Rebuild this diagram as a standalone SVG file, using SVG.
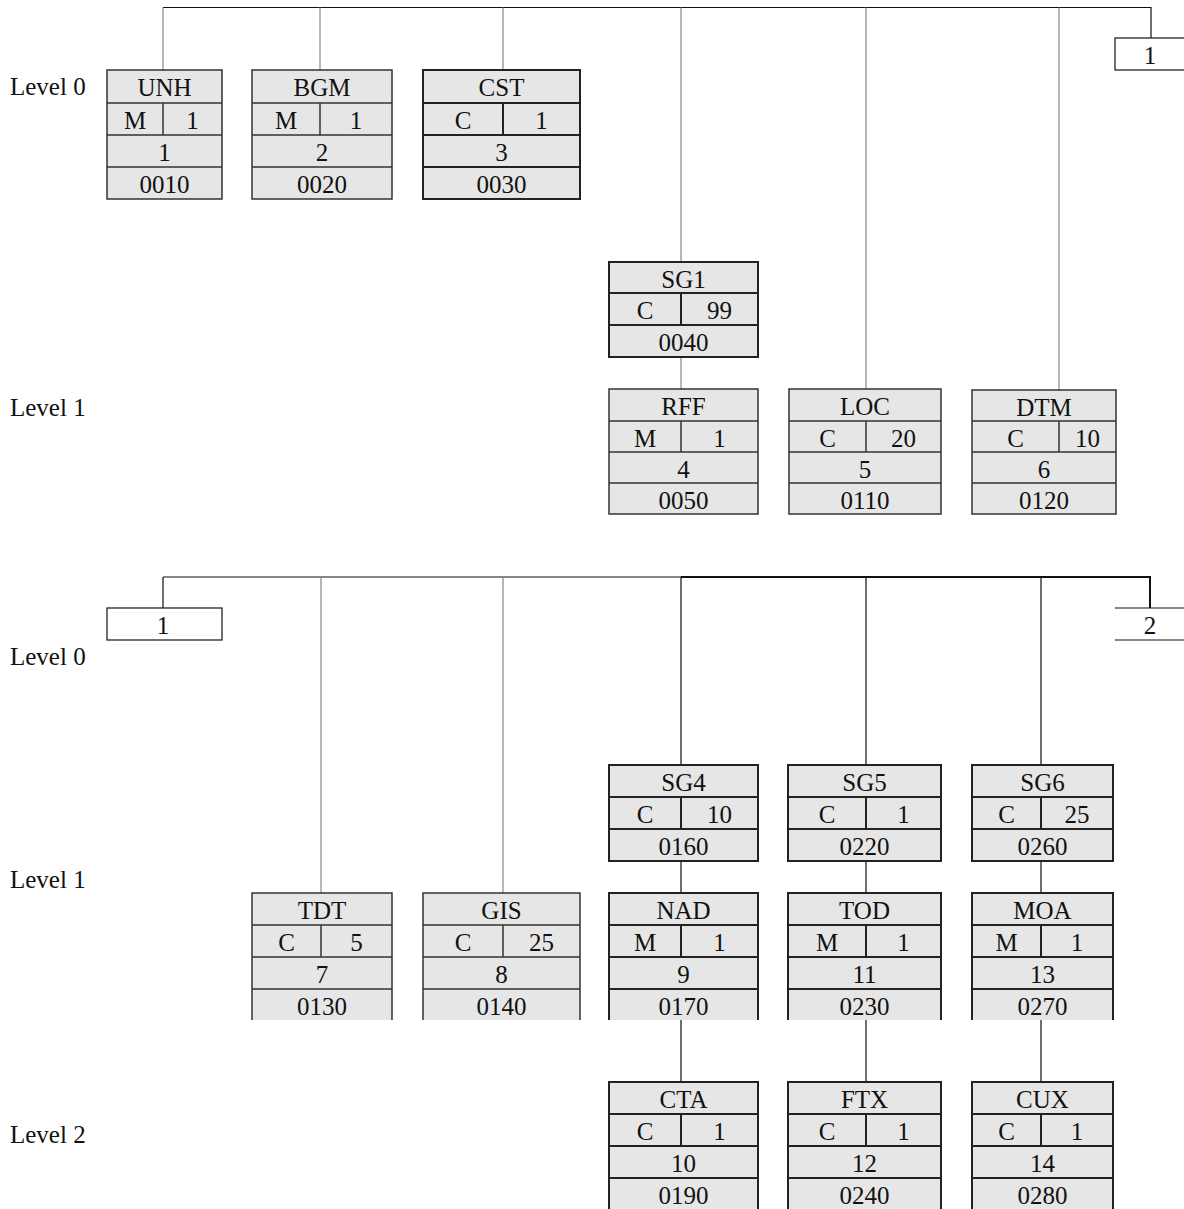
<svg xmlns="http://www.w3.org/2000/svg" width="1184" height="1209" viewBox="0 0 1184 1209">
<style>
text{font-family:"Liberation Serif","Times New Roman",serif;font-size:25px;fill:#111}
.c{text-anchor:middle}
.f{fill:#e6e6e6;stroke:none}
.b{fill:none;stroke:#333;stroke-width:1.5}
.bt{fill:none;stroke:#222;stroke-width:2}
.ln{fill:none;stroke:#888;stroke-width:1.2}
.lk{fill:none;stroke:#111;stroke-width:1.2}
.lt{fill:none;stroke:#111;stroke-width:2}
</style>
<rect width="1184" height="1209" fill="#fff"/>
<g id="connectors">
<path class="lk" d="M163,7.5H1151V38"/>
<path class="ln" d="M163,7.5V70M320,7.5V70M503,7.5V70M681,7.5V262M681,357V389M866,7.5V389M1059,7.5V390"/>
<path class="lk" d="M163,577H681M163,577V608"/>
<path class="lt" d="M681,577H1150V608"/>
<path class="ln" d="M321,577V893M503,577V893"/>
<path class="lk" d="M681,577V765M866,577V765M1041,577V765M681,861V893M866,861V893M1041,861V893M681,1020V1082M866,1020V1082M1041,1020V1082"/>
</g>
<g id="labels">
<text x="10" y="95">Level 0</text>
<text x="10" y="416">Level 1</text>
<text x="10" y="665">Level 0</text>
<text x="10" y="888">Level 1</text>
<text x="10" y="1143">Level 2</text>
</g>
<g id="conn1a"><rect x="1115" y="38" width="75" height="32" fill="#fff" stroke="#111" stroke-width="1.2"/><text class="c" x="1150" y="64">1</text></g>
<g id="conn1b"><rect x="107" y="608" width="115" height="32" fill="#fff" stroke="#111" stroke-width="1.2"/><text class="c" x="163" y="634">1</text></g>
<g id="conn2"><path class="lk" d="M1115,608H1184M1115,640H1184"/><text class="c" x="1150" y="634">2</text></g>

<g id="UNH"><rect class="f" x="107" y="70" width="115" height="129"/><path class="b" d="M107,70H222V199H107ZM107,103H222M107,135H222M107,167H222M163,103V135"/>
<text class="c" x="164.5" y="96">UNH</text><text class="c" x="135" y="129">M</text><text class="c" x="192.5" y="129">1</text><text class="c" x="164.5" y="161">1</text><text class="c" x="164.5" y="193">0010</text></g>
<g id="BGM"><rect class="f" x="252" y="70" width="140" height="129"/><path class="b" d="M252,70H392V199H252ZM252,103H392M252,135H392M252,167H392M320,103V135"/>
<text class="c" x="322" y="96">BGM</text><text class="c" x="286" y="129">M</text><text class="c" x="356" y="129">1</text><text class="c" x="322" y="161">2</text><text class="c" x="322" y="193">0020</text></g>
<g id="CST"><rect class="f" x="423" y="70" width="157" height="129"/><path class="bt" d="M423,70H580V199H423ZM423,103H580M423,135H580M423,167H580M503,103V135"/>
<text class="c" x="501.5" y="96">CST</text><text class="c" x="463" y="129">C</text><text class="c" x="541.5" y="129">1</text><text class="c" x="501.5" y="161">3</text><text class="c" x="501.5" y="193">0030</text></g>
<g id="SG1"><rect class="f" x="609" y="262" width="149" height="95"/><path class="bt" d="M609,262H758V357H609ZM609,293H758M609,325H758M681,293V325"/>
<text class="c" x="683.5" y="288">SG1</text><text class="c" x="645" y="319">C</text><text class="c" x="719.5" y="319">99</text><text class="c" x="683.5" y="351">0040</text></g>
<g id="RFF"><rect class="f" x="609" y="389" width="149" height="125"/><path class="b" d="M609,389H758V514H609ZM609,421H758M609,452H758M609,483H758M681,421V452"/>
<text class="c" x="683.5" y="415">RFF</text><text class="c" x="645" y="447">M</text><text class="c" x="719.5" y="447">1</text><text class="c" x="683.5" y="478">4</text><text class="c" x="683.5" y="509">0050</text></g>
<g id="LOC"><rect class="f" x="789" y="389" width="152" height="125"/><path class="b" d="M789,389H941V514H789ZM789,421H941M789,452H941M789,483H941M866,421V452"/>
<text class="c" x="865" y="415">LOC</text><text class="c" x="827.5" y="447">C</text><text class="c" x="903.5" y="447">20</text><text class="c" x="865" y="478">5</text><text class="c" x="865" y="509">0110</text></g>
<g id="DTM"><rect class="f" x="972" y="390" width="144" height="124"/><path class="b" d="M972,390H1116V514H972ZM972,421H1116M972,452H1116M972,483H1116M1059,421V452"/>
<text class="c" x="1044" y="416">DTM</text><text class="c" x="1015.5" y="447">C</text><text class="c" x="1087.5" y="447">10</text><text class="c" x="1044" y="478">6</text><text class="c" x="1044" y="509">0120</text></g>

<g id="TDT"><rect class="f" x="252" y="893" width="140" height="127"/><path class="b" d="M252,1020V893H392V1020M252,925H392M252,957H392M252,989H392M321,925V957"/>
<text class="c" x="322" y="919">TDT</text><text class="c" x="286.5" y="951">C</text><text class="c" x="356.5" y="951">5</text><text class="c" x="322" y="983">7</text><text class="c" x="322" y="1015">0130</text></g>
<g id="GIS"><rect class="f" x="423" y="893" width="157" height="127"/><path class="b" d="M423,1020V893H580V1020M423,925H580M423,957H580M423,989H580M503,925V957"/>
<text class="c" x="501.5" y="919">GIS</text><text class="c" x="463" y="951">C</text><text class="c" x="541.5" y="951">25</text><text class="c" x="501.5" y="983">8</text><text class="c" x="501.5" y="1015">0140</text></g>
<g id="SG4"><rect class="f" x="609" y="765" width="149" height="96"/><path class="bt" d="M609,765H758V861H609ZM609,797H758M609,829H758M681,797V829"/>
<text class="c" x="683.5" y="791">SG4</text><text class="c" x="645" y="823">C</text><text class="c" x="719.5" y="823">10</text><text class="c" x="683.5" y="855">0160</text></g>
<g id="SG5"><rect class="f" x="788" y="765" width="153" height="96"/><path class="bt" d="M788,765H941V861H788ZM788,797H941M788,829H941M866,797V829"/>
<text class="c" x="864.5" y="791">SG5</text><text class="c" x="827" y="823">C</text><text class="c" x="903.5" y="823">1</text><text class="c" x="864.5" y="855">0220</text></g>
<g id="SG6"><rect class="f" x="972" y="765" width="141" height="96"/><path class="bt" d="M972,765H1113V861H972ZM972,797H1113M972,829H1113M1041,797V829"/>
<text class="c" x="1042.5" y="791">SG6</text><text class="c" x="1006.5" y="823">C</text><text class="c" x="1077" y="823">25</text><text class="c" x="1042.5" y="855">0260</text></g>
<g id="NAD"><rect class="f" x="609" y="893" width="149" height="127"/><path class="bt" d="M609,1020V893H758V1020M609,925H758M609,957H758M609,989H758M681,925V957"/>
<text class="c" x="683.5" y="919">NAD</text><text class="c" x="645" y="951">M</text><text class="c" x="719.5" y="951">1</text><text class="c" x="683.5" y="983">9</text><text class="c" x="683.5" y="1015">0170</text></g>
<g id="TOD"><rect class="f" x="788" y="893" width="153" height="127"/><path class="bt" d="M788,1020V893H941V1020M788,925H941M788,957H941M788,989H941M866,925V957"/>
<text class="c" x="864.5" y="919">TOD</text><text class="c" x="827" y="951">M</text><text class="c" x="903.5" y="951">1</text><text class="c" x="864.5" y="983">11</text><text class="c" x="864.5" y="1015">0230</text></g>
<g id="MOA"><rect class="f" x="972" y="893" width="141" height="127"/><path class="bt" d="M972,1020V893H1113V1020M972,925H1113M972,957H1113M972,989H1113M1041,925V957"/>
<text class="c" x="1042.5" y="919">MOA</text><text class="c" x="1006.5" y="951">M</text><text class="c" x="1077" y="951">1</text><text class="c" x="1042.5" y="983">13</text><text class="c" x="1042.5" y="1015">0270</text></g>
<g id="CTA"><rect class="f" x="609" y="1082" width="149" height="127"/><path class="bt" d="M609,1209V1082H758V1209M609,1114H758M609,1146H758M609,1178H758M681,1114V1146"/>
<text class="c" x="683.5" y="1108">CTA</text><text class="c" x="645" y="1140">C</text><text class="c" x="719.5" y="1140">1</text><text class="c" x="683.5" y="1172">10</text><text class="c" x="683.5" y="1204">0190</text></g>
<g id="FTX"><rect class="f" x="788" y="1082" width="153" height="127"/><path class="bt" d="M788,1209V1082H941V1209M788,1114H941M788,1146H941M788,1178H941M866,1114V1146"/>
<text class="c" x="864.5" y="1108">FTX</text><text class="c" x="827" y="1140">C</text><text class="c" x="903.5" y="1140">1</text><text class="c" x="864.5" y="1172">12</text><text class="c" x="864.5" y="1204">0240</text></g>
<g id="CUX"><rect class="f" x="972" y="1082" width="141" height="127"/><path class="bt" d="M972,1209V1082H1113V1209M972,1114H1113M972,1146H1113M972,1178H1113M1041,1114V1146"/>
<text class="c" x="1042.5" y="1108">CUX</text><text class="c" x="1006.5" y="1140">C</text><text class="c" x="1077" y="1140">1</text><text class="c" x="1042.5" y="1172">14</text><text class="c" x="1042.5" y="1204">0280</text></g>
</svg>
